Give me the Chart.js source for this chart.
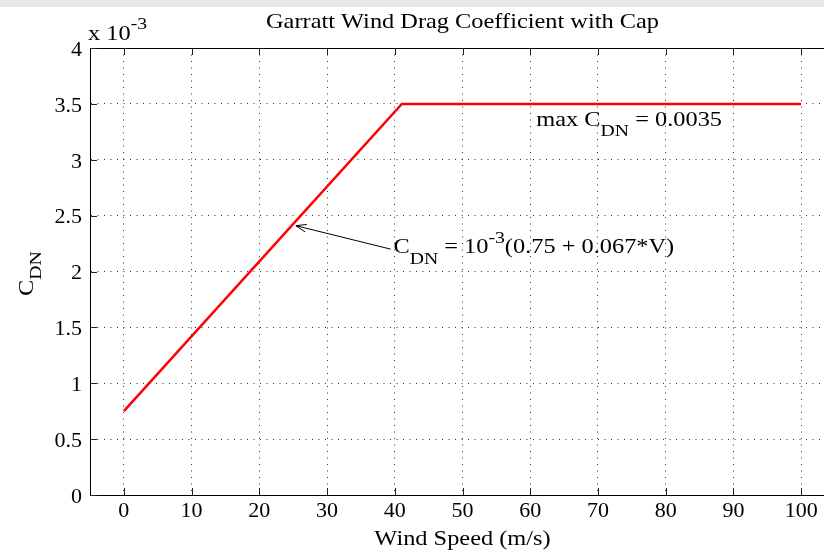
<!DOCTYPE html>
<html>
<head>
<meta charset="utf-8">
<script src="https://cdn.jsdelivr.net/npm/chart.js@4"></script>
<style>
    html, body { margin: 0; padding: 0; background: #fff; overflow: hidden; }
    .frame { position: relative; width: 824px; height: 550px; overflow: hidden; background: #fff; }
    .band { position: absolute; left: 0; top: 0; width: 824px; height: 7px; background: #e7e9e9; }
    #dragChart { position: absolute; left: 0; top: 0; }
</style>
</head>
<body>
<div class="frame">
    <div class="band"></div>
    <canvas id="dragChart" width="860" height="550"></canvas>
</div>
<script>
// Data (C_DN in units of 1e-3)
const windSpeed = [0, 41.04, 100];
const dragCoef = [0.75, 3.5, 3.5];
const xTicks = [0, 10, 20, 30, 40, 50, 60, 70, 80, 90, 100];
const yTicks = [0, 0.5, 1, 1.5, 2, 2.5, 3, 3.5, 4];

const SERIF = '"Liberation Serif", "DejaVu Serif", serif';
const STRETCH = 1.16; // reference text is a bit wider than Times

// draws a run of text pieces, each with its own size and vertical shift
function richWidth(ctx, parts) {
    let w = 0;
    parts.forEach(p => {
        ctx.font = p.size + 'px ' + SERIF;
        w += ctx.measureText(p.t).width;
    });
    return w * STRETCH;
}

function drawRich(ctx, x, y, parts) {
    ctx.save();
    ctx.translate(x, y);
    ctx.scale(STRETCH, 1);
    let cx = 0;
    parts.forEach(p => {
        ctx.font = p.size + 'px ' + SERIF;
        ctx.fillText(p.t, cx, p.dy || 0);
        cx += ctx.measureText(p.t).width;
    });
    ctx.restore();
}

const matlabDecor = {
    id: 'matlabDecor',
    afterDraw(chart) {
        const ctx = chart.ctx;
        const area = chart.chartArea;
        const xs = chart.scales.x;
        const ys = chart.scales.y;
        ctx.save();

        // top box line
        ctx.strokeStyle = '#000';
        ctx.lineWidth = 1;
        ctx.beginPath();
        ctx.moveTo(area.left, area.top + 0.5);
        ctx.lineTo(area.right, area.top + 0.5);
        ctx.stroke();

        // inward tick marks
        ctx.strokeStyle = '#222';
        ctx.beginPath();
        xTicks.forEach(v => {
            const px = Math.round(xs.getPixelForValue(v)) + 0.5;
            ctx.moveTo(px, area.bottom);
            ctx.lineTo(px, area.bottom - 7);
            ctx.moveTo(px, area.top);
            ctx.lineTo(px, area.top + 7);
        });
        yTicks.forEach(v => {
            const py = Math.round(ys.getPixelForValue(v)) + 0.5;
            ctx.moveTo(area.left, py);
            ctx.lineTo(area.left + 7, py);
        });
        ctx.stroke();

        ctx.fillStyle = '#000';
        ctx.textAlign = 'left';
        ctx.textBaseline = 'alphabetic';

        // title
        const title = [{ t: 'Garratt Wind Drag Coefficient with Cap', size: 21 }];
        drawRich(ctx, (area.left + area.right) / 2 - richWidth(ctx, title) / 2, 28, title);

        // x axis title
        const xTitle = [{ t: 'Wind Speed (m/s)', size: 21 }];
        drawRich(ctx, (area.left + area.right) / 2 - richWidth(ctx, xTitle) / 2, 545, xTitle);

        // exponent label
        drawRich(ctx, area.left - 2, 40, [
            { t: 'x 10', size: 21 },
            { t: '-3', size: 17, dy: -11 }
        ]);

        // y axis title
        ctx.save();
        ctx.translate(33, 296);
        ctx.rotate(-Math.PI / 2);
        drawRich(ctx, 0, 0, [
            { t: 'C', size: 21 },
            { t: 'DN', size: 17, dy: 8 }
        ]);
        ctx.restore();

        // cap label
        drawRich(ctx, xs.getPixelForValue(60.9), ys.getPixelForValue(3.3), [
            { t: 'max C', size: 21 },
            { t: 'DN', size: 17, dy: 10 },
            { t: ' = 0.0035', size: 21 }
        ]);

        // formula label with arrow
        const tipX = xs.getPixelForValue(25.4), tipY = ys.getPixelForValue(2.41);
        const tailX = xs.getPixelForValue(39.4), tailY = ys.getPixelForValue(2.2);
        ctx.strokeStyle = '#000';
        ctx.lineWidth = 1;
        ctx.beginPath();
        ctx.moveTo(tailX, tailY);
        ctx.lineTo(tipX, tipY);
        const ang = Math.atan2(tailY - tipY, tailX - tipX);
        ctx.moveTo(tipX + 11 * Math.cos(ang + 0.35), tipY + 11 * Math.sin(ang + 0.35));
        ctx.lineTo(tipX, tipY);
        ctx.lineTo(tipX + 11 * Math.cos(ang - 0.35), tipY + 11 * Math.sin(ang - 0.35));
        ctx.stroke();

        drawRich(ctx, xs.getPixelForValue(39.8), ys.getPixelForValue(2.17), [
            { t: 'C', size: 21 },
            { t: 'DN', size: 17, dy: 11 },
            { t: ' = 10', size: 21 },
            { t: '-3', size: 17, dy: -10 },
            { t: '(0.75 + 0.067*V)', size: 21 }
        ]);

        ctx.restore();
    }
};

const points = windSpeed.map((v, i) => ({ x: v, y: dragCoef[i] }));

new Chart(document.getElementById('dragChart'), {
    type: 'line',
    data: {
        datasets: [{
            data: points,
            borderColor: '#ff0000',
            borderWidth: 2.5,
            pointRadius: 0,
            tension: 0,
            fill: false
        }]
    },
    options: {
        responsive: false,
        animation: false,
        layout: { padding: { top: 48, right: 25, left: 0, bottom: 0 } },
        plugins: {
            legend: { display: false },
            tooltip: { enabled: false }
        },
        scales: {
            x: {
                type: 'linear',
                min: -5,
                max: 105,
                afterBuildTicks: (scale) => { scale.ticks = xTicks.map(v => ({ value: v })); },
                afterFit: (scale) => { scale.height = 55; },
                ticks: {
                    color: '#000',
                    padding: 3,
                    maxRotation: 0,
                    autoSkip: false,
                    font: { family: SERIF, size: 22 }
                },
                grid: {
                    color: '#333',
                    lineWidth: 1,
                    drawTicks: false
                },
                border: { color: '#000', width: 1, dash: [1, 5.5] }
            },
            y: {
                min: 0,
                max: 4,
                afterBuildTicks: (scale) => { scale.ticks = yTicks.map(v => ({ value: v })); },
                afterFit: (scale) => { scale.width = 90; },
                ticks: {
                    color: '#000',
                    padding: 8,
                    labelOffset: 2,
                    autoSkip: false,
                    font: { family: SERIF, size: 22 },
                    callback: (v) => String(v)
                },
                grid: {
                    color: '#333',
                    lineWidth: 1,
                    drawTicks: false
                },
                border: { color: '#000', width: 1, dash: [1, 5.5] }
            }
        }
    },
    plugins: [matlabDecor]
});
</script>
</body>
</html>
